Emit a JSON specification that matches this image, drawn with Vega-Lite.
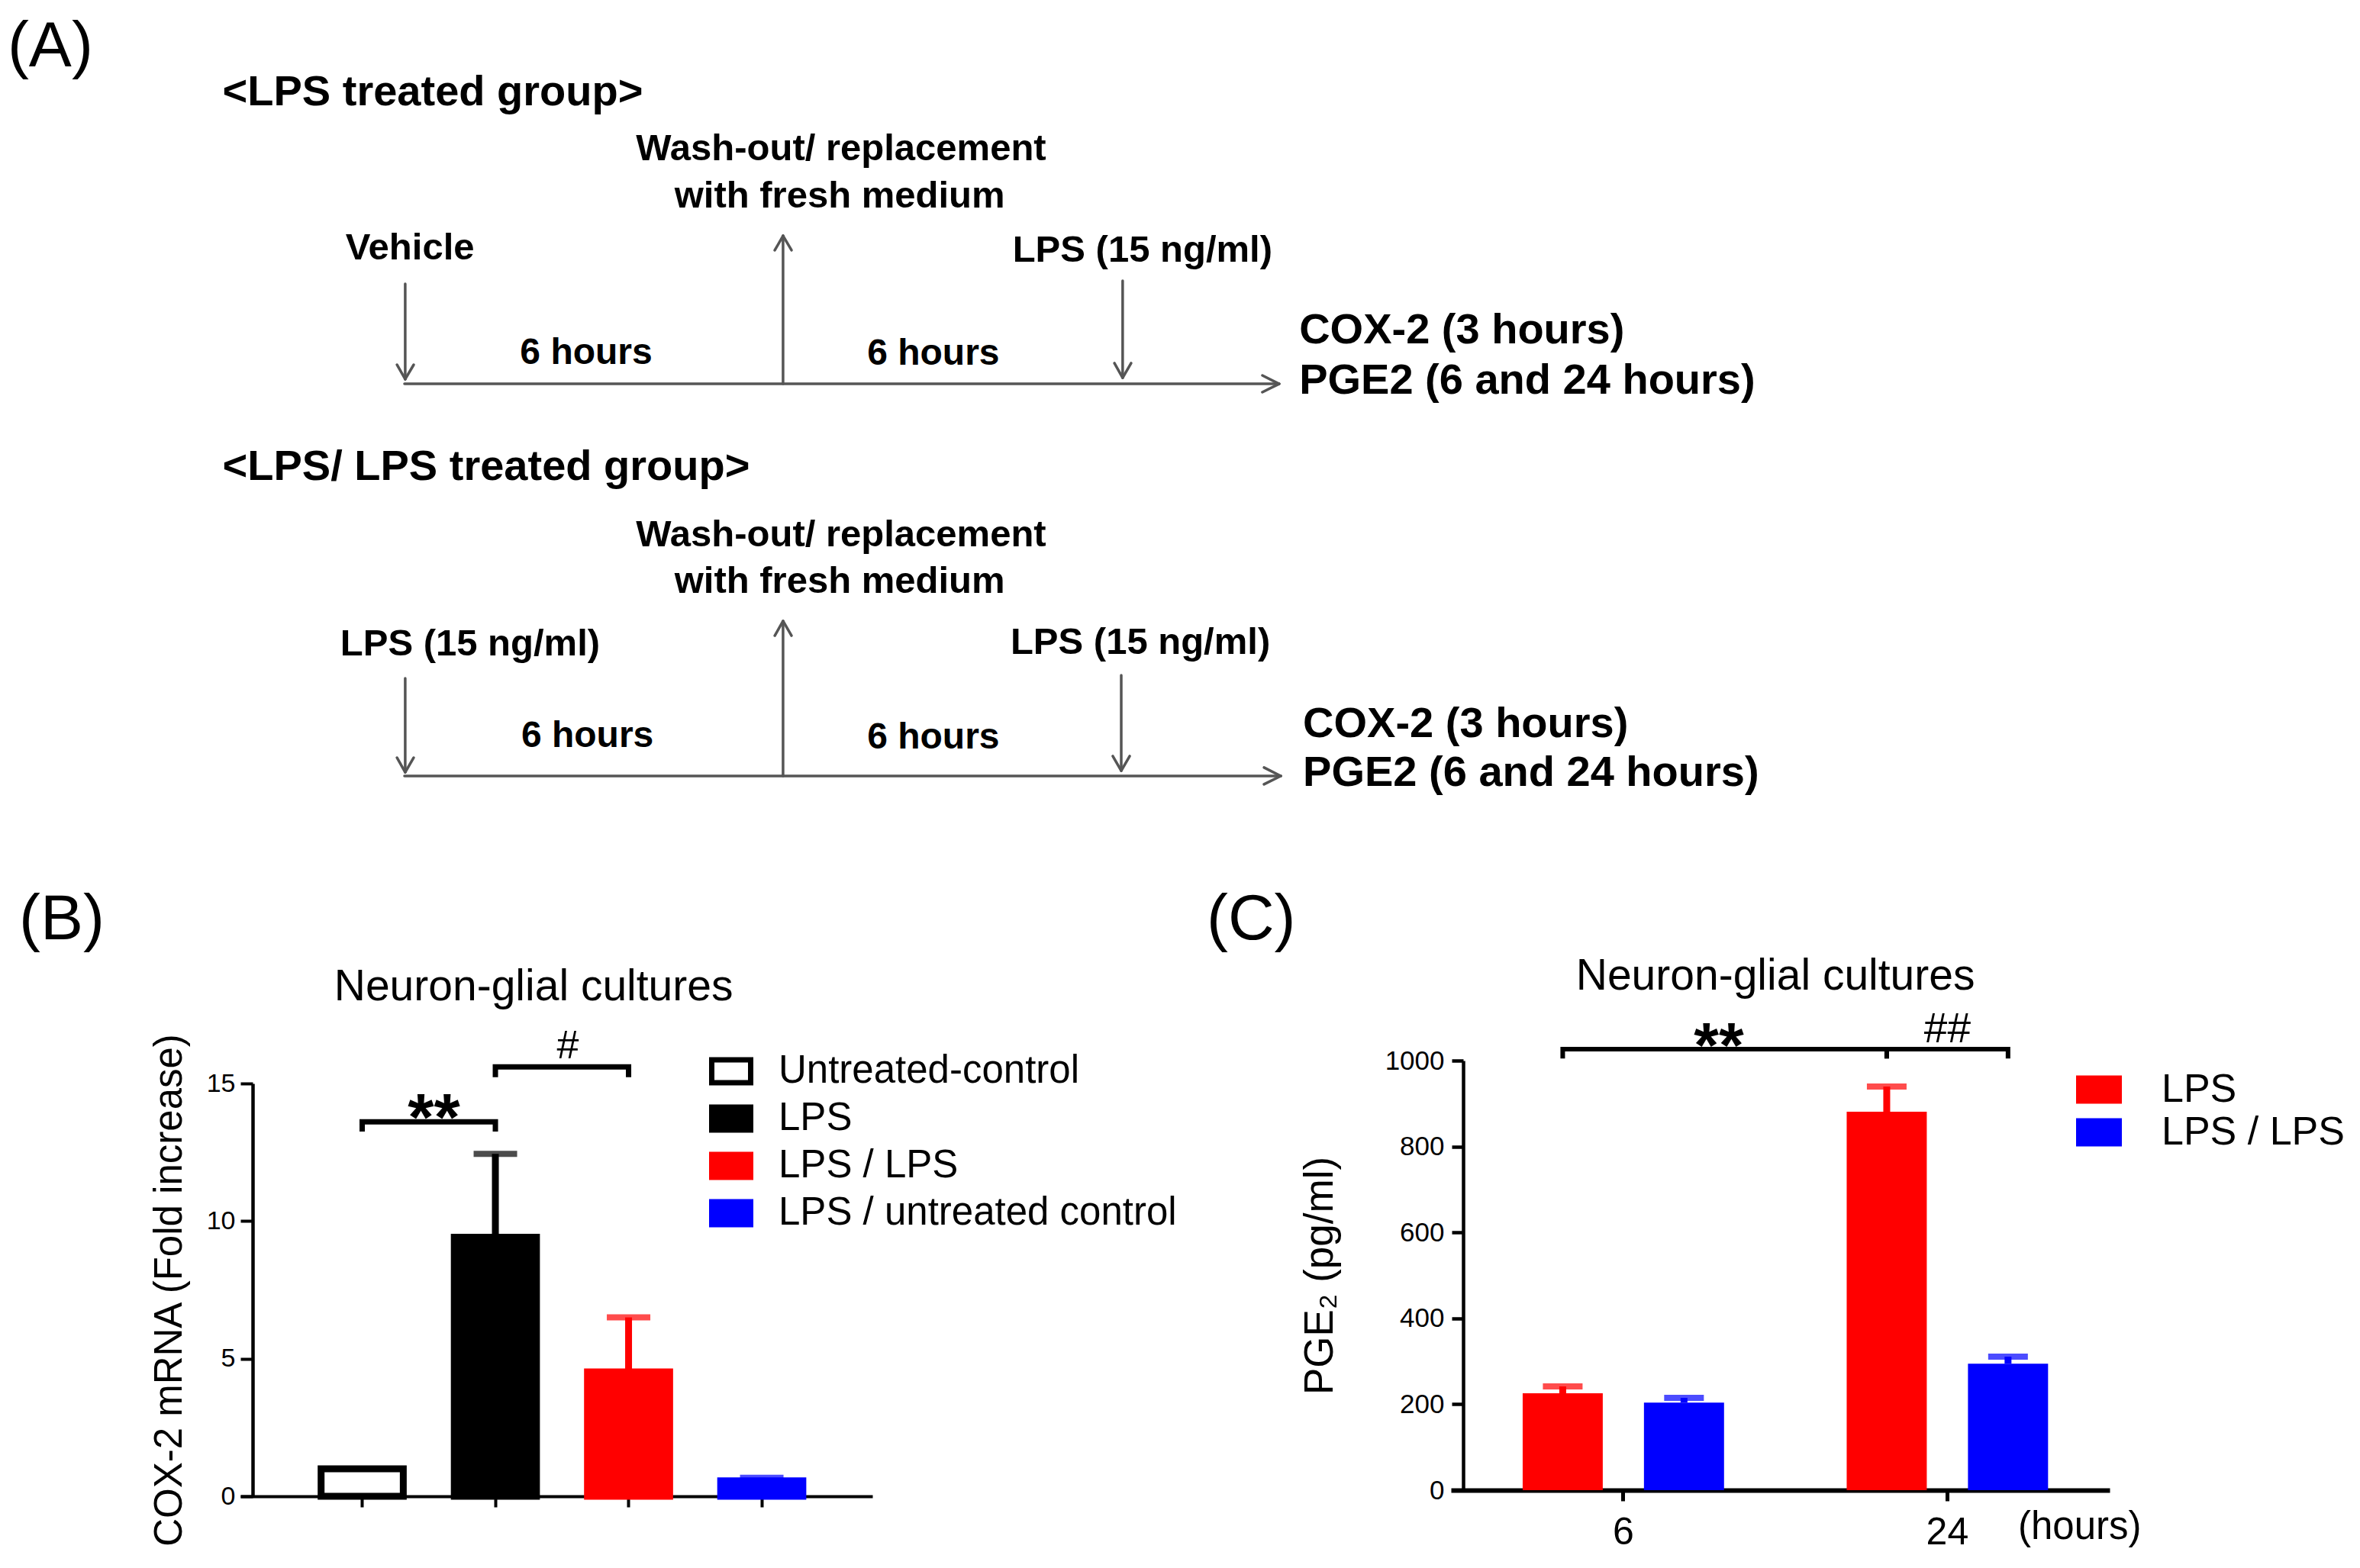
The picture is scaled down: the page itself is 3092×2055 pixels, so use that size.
{
  "$schema": "https://vega.github.io/schema/vega-lite/v6.json",
  "width": 3092,
  "height": 2055,
  "autosize": "none",
  "padding": 0,
  "background": "white",
  "config": {
    "view": {"stroke": null},
    "font": "Liberation Sans",
    "axis": {"labelFont": "Liberation Sans", "titleFont": "Liberation Sans, DejaVu Sans", "grid": false},
    "legend": {"labelFont": "Liberation Sans", "symbolOpacity": 1}
  },
  "datasets": {
    "segments": [
      {"ax": 17.14, "ay": 24.48, "bx": 54.20, "by": 24.48},
      {"ax": 54.20, "ay": 24.48, "bx": 53.49, "by": 23.94},
      {"ax": 54.20, "ay": 24.48, "bx": 53.49, "by": 25.01},
      {"ax": 17.17, "ay": 18.10, "bx": 17.17, "by": 24.18},
      {"ax": 17.17, "ay": 24.18, "bx": 16.82, "by": 23.26},
      {"ax": 17.17, "ay": 24.18, "bx": 17.53, "by": 23.26},
      {"ax": 33.18, "ay": 24.48, "bx": 33.18, "by": 15.04},
      {"ax": 33.18, "ay": 15.04, "bx": 32.83, "by": 15.96},
      {"ax": 33.18, "ay": 15.04, "bx": 33.54, "by": 15.96},
      {"ax": 47.57, "ay": 17.91, "bx": 47.57, "by": 24.09},
      {"ax": 47.57, "ay": 24.09, "bx": 47.22, "by": 23.16},
      {"ax": 47.57, "ay": 24.09, "bx": 47.93, "by": 23.16},
      {"ax": 17.14, "ay": 49.49, "bx": 54.27, "by": 49.49},
      {"ax": 54.27, "ay": 49.49, "bx": 53.56, "by": 48.95},
      {"ax": 54.27, "ay": 49.49, "bx": 53.56, "by": 50.02},
      {"ax": 17.17, "ay": 43.26, "bx": 17.17, "by": 49.25},
      {"ax": 17.17, "ay": 49.25, "bx": 16.82, "by": 48.32},
      {"ax": 17.17, "ay": 49.25, "bx": 17.53, "by": 48.32},
      {"ax": 33.18, "ay": 49.49, "bx": 33.18, "by": 39.61},
      {"ax": 33.18, "ay": 39.61, "bx": 32.83, "by": 40.54},
      {"ax": 33.18, "ay": 39.61, "bx": 33.54, "by": 40.54},
      {"ax": 47.51, "ay": 43.07, "bx": 47.51, "by": 49.15},
      {"ax": 47.51, "ay": 49.15, "bx": 47.15, "by": 48.22},
      {"ax": 47.51, "ay": 49.15, "bx": 47.87, "by": 48.22}
    ],
    "headings": [
      {"text": "<LPS treated group>", "px": 9.43, "py": 6.72},
      {"text": "COX-2 (3 hours)", "px": 55.05, "py": 21.92},
      {"text": "PGE2 (6 and 24 hours)", "px": 55.05, "py": 25.11},
      {"text": "<LPS/ LPS treated group>", "px": 9.43, "py": 30.63},
      {"text": "COX-2 (3 hours)", "px": 55.21, "py": 47.01},
      {"text": "PGE2 (6 and 24 hours)", "px": 55.21, "py": 50.10}
    ],
    "events": [
      {"text": "Wash-out/ replacement", "px": 35.64, "py": 10.24},
      {"text": "with fresh medium", "px": 35.58, "py": 13.24},
      {"text": "Vehicle", "px": 17.37, "py": 16.55},
      {"text": "LPS (15 ng/ml)", "px": 48.41, "py": 16.69},
      {"text": "Wash-out/ replacement", "px": 35.64, "py": 34.84},
      {"text": "with fresh medium", "px": 35.58, "py": 37.83},
      {"text": "LPS (15 ng/ml)", "px": 19.92, "py": 41.80},
      {"text": "LPS (15 ng/ml)", "px": 48.32, "py": 41.70}
    ],
    "durations": [
      {"text": "6 hours", "px": 24.84, "py": 23.21},
      {"text": "6 hours", "px": 39.55, "py": 23.28},
      {"text": "6 hours", "px": 24.89, "py": 47.64},
      {"text": "6 hours", "px": 39.55, "py": 47.74}
    ],
    "panels": [
      {"text": "(A)", "px": 0.32, "py": 4.23},
      {"text": "(B)", "px": 0.81, "py": 59.90},
      {"text": "(C)", "px": 51.13, "py": 59.90}
    ],
    "titles": [
      {"text": "Neuron-glial cultures", "px": 22.61, "py": 63.80},
      {"text": "Neuron-glial cultures", "px": 75.23, "py": 63.11}
    ],
    "units": [
      {"text": "(hours)", "px": 85.51, "py": 98.15}
    ],
    "cox2": [
      {"group": "Untreated-control", "mean": 1.0},
      {"group": "LPS", "mean": 9.41, "upper": 12.44},
      {"group": "LPS / LPS", "mean": 4.52, "upper": 6.50},
      {"group": "LPS / untreated control", "mean": 0.56, "upper": 0.67}
    ],
    "cox2_brackets": [
      {"bracket": "a", "ord": 1, "group": "Untreated-control", "level": 13.25},
      {"bracket": "a", "ord": 2, "group": "Untreated-control", "level": 13.61},
      {"bracket": "a", "ord": 3, "group": "LPS", "level": 13.61},
      {"bracket": "a", "ord": 4, "group": "LPS", "level": 13.25},
      {"bracket": "b", "ord": 1, "group": "LPS", "level": 15.23},
      {"bracket": "b", "ord": 2, "group": "LPS", "level": 15.60},
      {"bracket": "b", "ord": 3, "group": "LPS / LPS", "level": 15.60},
      {"bracket": "b", "ord": 4, "group": "LPS / LPS", "level": 15.23}
    ],
    "cox2_stars": [{"group": "Untreated-control", "level": 12.95, "label": "**"}],
    "cox2_hash": [{"group": "LPS", "level": 15.92, "label": "#"}],
    "pge2": [
      {"hours": "6", "group": "LPS", "mean": 225.6, "upper": 241.6},
      {"hours": "6", "group": "LPS / LPS", "mean": 203.7, "upper": 214.9},
      {"hours": "24", "group": "LPS", "mean": 881, "upper": 939.6},
      {"hours": "24", "group": "LPS / LPS", "mean": 294.3, "upper": 310.8}
    ],
    "pge2_brackets": [
      {"bracket": "a", "ord": 1, "hours": "6", "group": "LPS", "level": 1005},
      {"bracket": "a", "ord": 2, "hours": "6", "group": "LPS", "level": 1026.5},
      {"bracket": "a", "ord": 3, "hours": "24", "group": "LPS", "level": 1026.5},
      {"bracket": "a", "ord": 4, "hours": "24", "group": "LPS", "level": 1005},
      {"bracket": "b", "ord": 1, "hours": "24", "group": "LPS", "level": 1005},
      {"bracket": "b", "ord": 2, "hours": "24", "group": "LPS", "level": 1026.5},
      {"bracket": "b", "ord": 3, "hours": "24", "group": "LPS / LPS", "level": 1026.5},
      {"bracket": "b", "ord": 4, "hours": "24", "group": "LPS / LPS", "level": 1005}
    ],
    "pge2_stars": [{"hours": "6", "group": "LPS", "level": 984, "label": "**"}],
    "pge2_hash": [{"hours": "24", "level": 1043, "label": "##"}]
  },
  "layer": [
    {
      "layer": [
        {
          "data": {"name": "segments"},
          "mark": {"type": "rule", "stroke": "#555555", "strokeWidth": 3.5, "strokeCap": "round"},
          "encoding": {
            "x": {"field": "ax", "type": "quantitative", "scale": {"domain": [0, 100], "range": [0, 3092], "nice": false, "zero": false}, "axis": null},
            "y": {"field": "ay", "type": "quantitative", "scale": {"domain": [0, 100], "range": [0, 2055], "nice": false, "zero": false}, "axis": null},
            "x2": {"field": "bx"},
            "y2": {"field": "by"}
          }
        },
        {
          "data": {"name": "headings"},
          "mark": {"type": "text", "align": "left", "baseline": "alphabetic", "fontSize": 56, "fontWeight": "bold", "font": "Liberation Sans", "color": "black"},
          "encoding": {
            "x": {"field": "px", "type": "quantitative"},
            "y": {"field": "py", "type": "quantitative"},
            "text": {"field": "text"}
          }
        },
        {
          "data": {"name": "events"},
          "mark": {"type": "text", "align": "center", "baseline": "alphabetic", "fontSize": 49, "fontWeight": "bold", "font": "Liberation Sans", "color": "black"},
          "encoding": {
            "x": {"field": "px", "type": "quantitative"},
            "y": {"field": "py", "type": "quantitative"},
            "text": {"field": "text"}
          }
        },
        {
          "data": {"name": "durations"},
          "mark": {"type": "text", "align": "center", "baseline": "alphabetic", "fontSize": 48, "fontWeight": "bold", "font": "Liberation Sans", "color": "black"},
          "encoding": {
            "x": {"field": "px", "type": "quantitative"},
            "y": {"field": "py", "type": "quantitative"},
            "text": {"field": "text"}
          }
        },
        {
          "data": {"name": "panels"},
          "mark": {"type": "text", "align": "left", "baseline": "alphabetic", "fontSize": 84, "fontWeight": "normal", "font": "Liberation Sans", "color": "black"},
          "encoding": {
            "x": {"field": "px", "type": "quantitative"},
            "y": {"field": "py", "type": "quantitative"},
            "text": {"field": "text"}
          }
        },
        {
          "data": {"name": "titles"},
          "mark": {"type": "text", "align": "center", "baseline": "alphabetic", "fontSize": 57, "fontWeight": "normal", "font": "Liberation Sans", "color": "black"},
          "encoding": {
            "x": {"field": "px", "type": "quantitative"},
            "y": {"field": "py", "type": "quantitative"},
            "text": {"field": "text"}
          }
        },
        {
          "data": {"name": "units"},
          "mark": {"type": "text", "align": "left", "baseline": "alphabetic", "fontSize": 51, "fontWeight": "normal", "font": "Liberation Sans", "color": "black"},
          "encoding": {
            "x": {"field": "px", "type": "quantitative"},
            "y": {"field": "py", "type": "quantitative"},
            "text": {"field": "text"}
          }
        }
      ]
    },
    {
      "data": {"name": "cox2"},
      "layer": [
        {
          "mark": {"type": "bar", "strokeWidth": 9},
          "encoding": {
            "x": {
              "field": "group", "type": "nominal",
              "scale": {"domain": ["Untreated-control", "LPS", "LPS / LPS", "LPS / untreated control"], "range": [315, 1143], "paddingInner": 0.383, "paddingOuter": 0.564, "align": 0.537, "round": false},
              "axis": {"orient": "bottom", "offset": -94, "labels": false, "title": null, "domainColor": "black", "domainWidth": 4, "tickColor": "black", "tickWidth": 4, "tickSize": 14, "grid": false}
            },
            "y": {
              "field": "mean", "type": "quantitative",
              "scale": {"domain": [0, 15], "range": [1961, 1420], "nice": false, "zero": true},
              "axis": {"orient": "left", "offset": -331, "values": [0, 5, 10, 15], "format": "d", "title": "COX-2 mRNA (Fold increase)", "titleFontSize": 51, "titleFontWeight": "normal", "titleColor": "black", "titlePadding": 22, "titleLimit": 2000, "labelFontSize": 34, "labelColor": "black", "labelPadding": 7, "tickSize": 16, "tickWidth": 4, "tickColor": "black", "domainColor": "black", "domainWidth": 4.5, "grid": false}
            },
            "fill": {
              "field": "group", "type": "nominal",
              "scale": {"domain": ["Untreated-control", "LPS", "LPS / LPS", "LPS / untreated control"], "range": ["#ffffff", "#000000", "#ff0000", "#0000ff"]},
              "legend": {"title": null, "orient": "none", "legendX": 929, "legendY": 1375, "symbolType": "M-1,-0.588H1V0.588H-1Z", "symbolSize": 2601, "symbolStrokeWidth": 7, "symbolOpacity": 1, "labelFontSize": 51, "labelColor": "black", "labelOffset": 33, "rowPadding": 4, "padding": 0, "labelLimit": 1000}
            },
            "stroke": {
              "field": "group", "type": "nominal",
              "scale": {"domain": ["Untreated-control", "LPS", "LPS / LPS", "LPS / untreated control"], "range": ["#000000", "#000000", "#ff0000", "#0000ff"]},
              "legend": {"title": null, "orient": "none", "legendX": 929, "legendY": 1375, "symbolType": "M-1,-0.588H1V0.588H-1Z", "symbolSize": 2601, "symbolStrokeWidth": 7, "symbolOpacity": 1, "labelFontSize": 51, "labelColor": "black", "labelOffset": 33, "rowPadding": 4, "padding": 0, "labelLimit": 1000}
            }
          }
        },
        {
          "transform": [{"filter": "isValid(datum.upper)"}],
          "mark": {"type": "rule", "strokeWidth": 9},
          "encoding": {
            "x": {"field": "group", "type": "nominal"},
            "y": {"field": "mean", "type": "quantitative"},
            "y2": {"field": "upper"},
            "stroke": {"field": "group", "type": "nominal"}
          }
        },
        {
          "transform": [{"filter": "isValid(datum.upper)"}],
          "mark": {"type": "tick", "orient": "horizontal", "size": 57, "thickness": 8},
          "encoding": {
            "x": {"field": "group", "type": "nominal"},
            "y": {"field": "upper", "type": "quantitative"},
            "fill": {"field": "group", "type": "nominal"}
          }
        },
        {
          "data": {"name": "cox2_brackets"},
          "mark": {"type": "line", "color": "black", "strokeWidth": 7, "strokeJoin": "miter", "strokeCap": "butt"},
          "encoding": {
            "x": {"field": "group", "type": "nominal"},
            "y": {"field": "level", "type": "quantitative"},
            "detail": {"field": "bracket"},
            "order": {"field": "ord"}
          }
        },
        {
          "data": {"name": "cox2_stars"},
          "mark": {"type": "text", "dx": 94, "align": "center", "baseline": "alphabetic", "fontSize": 88, "fontWeight": "bold", "font": "Liberation Sans", "color": "black"},
          "encoding": {
            "x": {"field": "group", "type": "nominal"},
            "y": {"field": "level", "type": "quantitative"},
            "text": {"field": "label"}
          }
        },
        {
          "data": {"name": "cox2_hash"},
          "mark": {"type": "text", "dx": 95, "align": "center", "baseline": "alphabetic", "fontSize": 52, "fontWeight": "normal", "font": "Liberation Sans", "color": "black"},
          "encoding": {
            "x": {"field": "group", "type": "nominal"},
            "y": {"field": "level", "type": "quantitative"},
            "text": {"field": "label"}
          }
        }
      ]
    },
    {
      "data": {"name": "pge2"},
      "layer": [
        {
          "mark": {"type": "bar"},
          "encoding": {
            "x": {
              "field": "hours", "type": "nominal",
              "scale": {"domain": ["6", "24"], "range": [1901, 2764], "paddingInner": 0.3785, "paddingOuter": 0.2057, "align": 0.538, "round": false},
              "axis": {"orient": "bottom", "offset": -102, "title": null, "labelAngle": 0, "labelFontSize": 50, "labelColor": "black", "labelPadding": 16, "tickSize": 14, "tickWidth": 5, "tickColor": "black", "domainColor": "black", "domainWidth": 6, "grid": false}
            },
            "xOffset": {"field": "group", "type": "nominal", "scale": {"domain": ["LPS", "LPS / LPS"], "paddingInner": 0.3396, "paddingOuter": 0}},
            "y": {
              "field": "mean", "type": "quantitative",
              "scale": {"domain": [0, 1000], "range": [1953, 1390], "nice": false, "zero": true},
              "axis": {"orient": "left", "offset": -1917, "values": [0, 200, 400, 600, 800, 1000], "format": "d", "title": "PGE₂ (pg/ml)", "titleFontSize": 53, "titleFontWeight": "normal", "titleColor": "black", "titlePadding": 58, "titleLimit": 2000, "labelFontSize": 35, "labelColor": "black", "labelPadding": 10, "tickSize": 15, "tickWidth": 4.5, "tickColor": "black", "domainColor": "black", "domainWidth": 4.5, "grid": false}
            },
            "color": {
              "field": "group", "type": "nominal",
              "scale": {"domain": ["LPS", "LPS / LPS"], "range": ["#ff0000", "#0000ff"]},
              "legend": {"title": null, "orient": "none", "legendX": 2720, "legendY": 1398, "symbolType": "M-1,-0.617H1V0.617H-1Z", "symbolSize": 3600, "symbolStrokeWidth": 0, "symbolOpacity": 1, "labelFontSize": 52, "labelColor": "black", "labelOffset": 52, "rowPadding": -1, "padding": 0, "labelLimit": 1000}
            }
          }
        },
        {
          "mark": {"type": "rule", "strokeWidth": 9},
          "encoding": {
            "x": {"field": "hours", "type": "nominal"},
            "xOffset": {"field": "group", "type": "nominal"},
            "y": {"field": "mean", "type": "quantitative"},
            "y2": {"field": "upper"},
            "color": {"field": "group", "type": "nominal"}
          }
        },
        {
          "mark": {"type": "tick", "orient": "horizontal", "size": 52, "thickness": 8},
          "encoding": {
            "x": {"field": "hours", "type": "nominal"},
            "xOffset": {"field": "group", "type": "nominal"},
            "y": {"field": "upper", "type": "quantitative"},
            "color": {"field": "group", "type": "nominal"}
          }
        },
        {
          "data": {"name": "pge2_brackets"},
          "mark": {"type": "line", "color": "black", "strokeWidth": 6, "strokeJoin": "miter", "strokeCap": "butt"},
          "encoding": {
            "x": {"field": "hours", "type": "nominal"},
            "xOffset": {"field": "group", "type": "nominal"},
            "y": {"field": "level", "type": "quantitative"},
            "detail": {"field": "bracket"},
            "order": {"field": "ord"}
          }
        },
        {
          "data": {"name": "pge2_stars"},
          "mark": {"type": "text", "dx": 204.5, "align": "center", "baseline": "alphabetic", "fontSize": 84, "fontWeight": "bold", "font": "Liberation Sans", "color": "black"},
          "encoding": {
            "x": {"field": "hours", "type": "nominal"},
            "xOffset": {"field": "group", "type": "nominal"},
            "y": {"field": "level", "type": "quantitative"},
            "text": {"field": "label"}
          }
        },
        {
          "data": {"name": "pge2_hash"},
          "mark": {"type": "text", "align": "center", "baseline": "alphabetic", "fontSize": 55, "fontWeight": "normal", "font": "Liberation Sans", "color": "black"},
          "encoding": {
            "x": {"field": "hours", "type": "nominal"},
            "y": {"field": "level", "type": "quantitative"},
            "text": {"field": "label"}
          }
        }
      ]
    }
  ],
  "resolve": {
    "scale": {"x": "independent", "y": "independent"},
    "axis": {"x": "independent", "y": "independent"}
  }
}
